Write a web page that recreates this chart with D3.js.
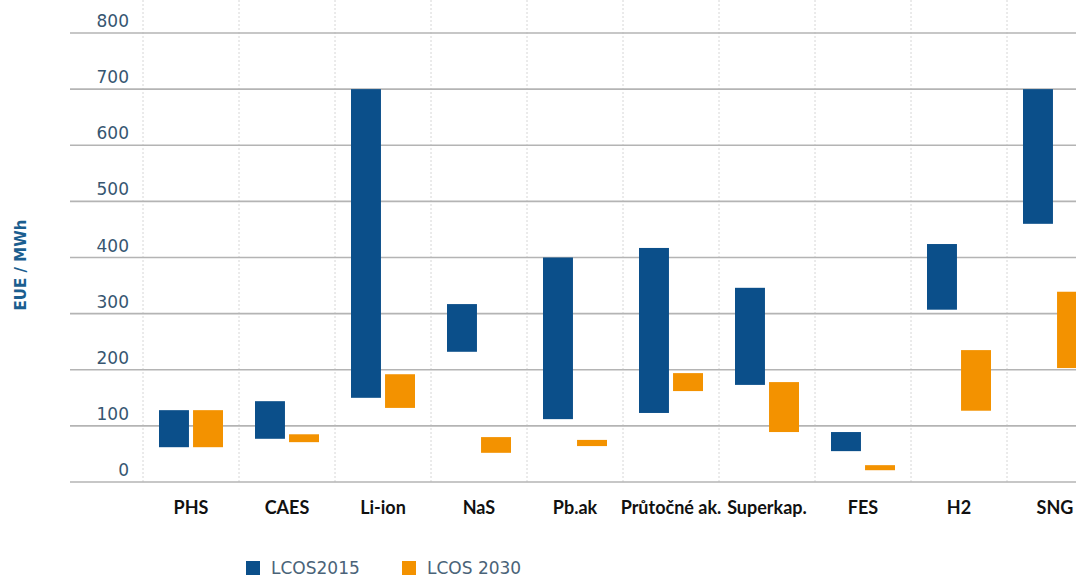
<!DOCTYPE html>
<html>
<head>
<meta charset="utf-8">
<script src="https://cdn.jsdelivr.net/npm/d3@7"></script>
<style>
  body { margin: 0; background: #fff; }
  svg { display: block; }
</style>
</head>
<body>
<svg width="1076" height="579"></svg>
<script>
const categories = ["PHS", "CAES", "Li-ion", "NaS", "Pb.ak", "Průtočné ak.", "Superkap.", "FES", "H2", "SNG"];
const lcos2015Min = [62, 77, 150, 232, 112, 123, 173, 55, 307, 460];
const lcos2015Max = [128, 144, 700, 317, 400, 417, 346, 89, 424, 700];
const lcos2030Min = [62, 71, 132, 52, 64, 162, 89, 21, 127, 203];
const lcos2030Max = [128, 85, 192, 80, 75, 194, 178, 30, 235, 339];
const yTicks = [0, 100, 200, 300, 400, 500, 600, 700, 800];
const seriesNames = ["LCOS2015", "LCOS 2030"];
const colors = ["#0b4f8a", "#f39200"];

const svg = d3.select("svg");

const x = d3.scaleBand().domain(categories).range([143, 1103]);
const xSub = d3.scaleBand().domain(seriesNames).range([16, 80]).paddingInner(0.12);
const y = d3.scaleLinear().domain([0, 800]).range([482, 33]);

// vertical dotted grid at band edges
svg.append("g")
  .selectAll("line")
  .data(categories)
  .enter().append("line")
  .attr("x1", d => x(d)).attr("x2", d => x(d))
  .attr("y1", 0).attr("y2", 484)
  .attr("stroke", "#d6d6d6")
  .attr("stroke-dasharray", "2,2");

// horizontal grid
svg.append("g")
  .selectAll("line")
  .data(yTicks)
  .enter().append("line")
  .attr("x1", 70).attr("x2", 1076)
  .attr("y1", d => y(d)).attr("y2", d => y(d))
  .attr("stroke", "#b4b4b4")
  .attr("stroke-width", 1.6);

// y tick labels, sitting above each line
svg.append("g")
  .selectAll("text")
  .data(yTicks)
  .enter().append("text")
  .attr("x", 129)
  .attr("y", d => y(d) - 6)
  .attr("text-anchor", "end")
  .attr("font-family", "DejaVu Sans")
  .attr("font-size", 17)
  .attr("fill", "#375671")
  .text(d => d);

svg.append("text")
  .attr("transform", "translate(26,265) rotate(-90)")
  .attr("text-anchor", "middle")
  .attr("font-family", "DejaVu Sans")
  .attr("font-weight", "bold")
  .attr("font-size", 15)
  .attr("fill", "#1b5e8f")
  .text("EUE / MWh");

// floating bars
const rows = [];
categories.forEach((c, i) => {
  rows.push({ cat: c, s: seriesNames[0], lo: lcos2015Min[i], hi: lcos2015Max[i] });
  rows.push({ cat: c, s: seriesNames[1], lo: lcos2030Min[i], hi: lcos2030Max[i] });
});

svg.append("g")
  .selectAll("rect")
  .data(rows)
  .enter().append("rect")
  .attr("x", d => x(d.cat) + xSub(d.s))
  .attr("width", xSub.bandwidth())
  .attr("y", d => y(d.hi))
  .attr("height", d => y(d.lo) - y(d.hi))
  .attr("fill", d => colors[seriesNames.indexOf(d.s)]);

// category labels
svg.append("g")
  .selectAll("text")
  .data(categories)
  .enter().append("text")
  .attr("x", d => x(d) + x.bandwidth() / 2)
  .attr("y", 514)
  .attr("text-anchor", "middle")
  .attr("font-family", "Lato")
  .attr("font-weight", "bold")
  .attr("font-size", 18)
  .attr("fill", "#111")
  .text(d => d);

// legend
const legend = svg.append("g")
  .selectAll("g")
  .data(seriesNames)
  .enter().append("g")
  .attr("transform", (d, i) => `translate(${246 + i * 156},561)`);

legend.append("rect")
  .attr("width", 14).attr("height", 14)
  .attr("fill", (d, i) => colors[i]);

legend.append("text")
  .attr("x", 25).attr("y", 13)
  .attr("font-family", "DejaVu Sans")
  .attr("font-size", 17)
  .attr("fill", "#4a6378")
  .text(d => d);
</script>
</body>
</html>
